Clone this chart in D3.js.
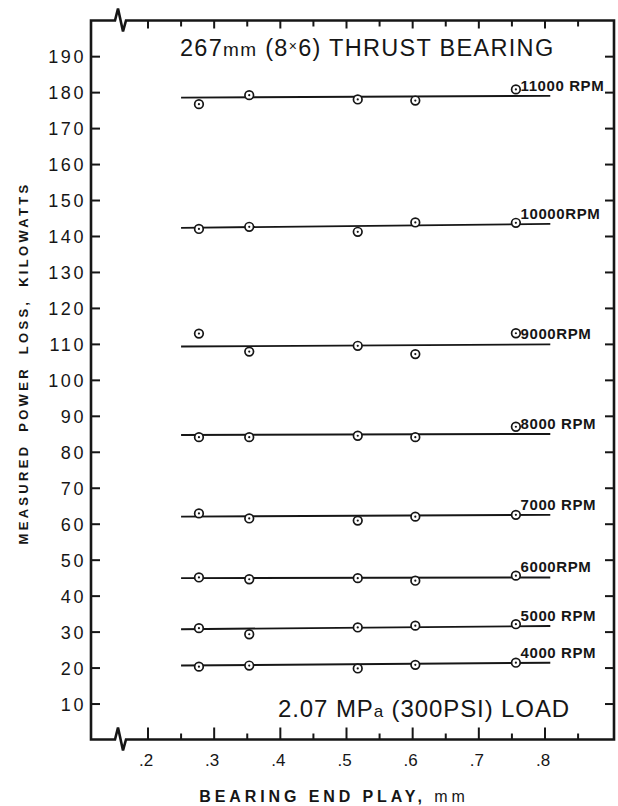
<!DOCTYPE html>
<html>
<head>
<meta charset="utf-8">
<script src="https://cdn.jsdelivr.net/npm/d3@7"></script>
<style>
  body { margin: 0; background: #fff; }
  svg { display: block; }
  text { fill: #161616; font-family: "Liberation Sans", Arial, sans-serif; }
</style>
</head>
<body>
<svg></svg>
<script>
// bearing end play (mm) where each speed was measured
let endPlay = [0.277, 0.353, 0.517, 0.604, 0.756]

// measured power loss, kW (one array per shaft speed)
let rpmLabels = ["11000 RPM", "10000RPM", "9000RPM", "8000 RPM", "7000 RPM", "6000RPM", "5000 RPM", "4000 RPM"]
let loss11000 = [176.8, 179.3, 178.1, 177.8, 180.9]
let loss10000 = [142.1, 142.7, 141.3, 143.9, 143.8]
let loss9000 = [113.0, 108.0, 109.6, 107.3, 113.1]
let loss8000 = [84.2, 84.2, 84.6, 84.2, 87.1]
let loss7000 = [63.0, 61.6, 61.0, 62.1, 62.6]
let loss6000 = [45.2, 44.7, 45.0, 44.3, 45.7]
let loss5000 = [31.1, 29.4, 31.3, 31.8, 32.2]
let loss4000 = [20.4, 20.7, 19.9, 20.9, 21.5]

// faired line through each set: value at start and end of the line
let fitX = [0.25, 0.808]
let fitStart = [178.6, 142.4, 109.4, 84.8, 62.1, 45.0, 30.8, 20.7]
let fitEnd = [179.1, 143.5, 110.0, 85.1, 62.6, 45.2, 31.7, 21.5]

// axis ticks
let yTicks = d3.range(10, 200, 10)
let xMajor = [0.2, 0.3, 0.4, 0.5, 0.6, 0.7, 0.8]
let xMinor = [0.25, 0.35, 0.45, 0.55, 0.65, 0.75, 0.85]
let xTickLabels = [".2", ".3", ".4", ".5", ".6", ".7", ".8"]

let series = [loss11000, loss10000, loss9000, loss8000, loss7000, loss6000, loss5000, loss4000]

let width = 618
let height = 806
let ink = "#161616"

let fLeft = 91, fRight = 614, fTop = 20.5, fBottom = 739.5

let svg = d3.select('svg')
   .attr("width", width)
   .attr("height", height)

let x = d3.scaleLinear().domain([0.2, 0.8]).range([148, 545])
let y = d3.scaleLinear().domain([0, 200]).range([740, 20.7])

// frame with the broken-axis marks
let breakX = 119
let frame = d3.path()
frame.moveTo(fLeft, fBottom)
frame.lineTo(fLeft, fTop)
frame.lineTo(breakX - 4, fTop)
frame.lineTo(breakX - 1, fTop - 12)
frame.lineTo(breakX + 4, fTop + 11)
frame.lineTo(breakX + 7, fTop)
frame.lineTo(fRight, fTop)
frame.lineTo(fRight, fBottom)
frame.lineTo(breakX + 7, fBottom)
frame.lineTo(breakX + 4, fBottom + 11)
frame.lineTo(breakX - 1, fBottom - 12)
frame.lineTo(breakX - 4, fBottom)
frame.closePath()

svg.append("path")
   .attr("d", frame.toString())
   .attr("fill", "none")
   .attr("stroke", ink)
   .attr("stroke-width", 2.6)
   .attr("stroke-linejoin", "miter")

// y ticks, left (labelled) and right
let gy = svg.append("g")
gy.selectAll(".lt").data(yTicks).enter().append("line")
   .attr("x1", fLeft).attr("x2", fLeft + 9)
   .attr("y1", d => y(d)).attr("y2", d => y(d))
   .attr("stroke", ink).attr("stroke-width", 2)
gy.selectAll(".rt").data(yTicks).enter().append("line")
   .attr("x1", fRight).attr("x2", fRight - 9)
   .attr("y1", d => y(d)).attr("y2", d => y(d))
   .attr("stroke", ink).attr("stroke-width", 2)
gy.selectAll("text").data(yTicks).enter().append("text")
   .attr("x", 86)
   .attr("y", d => y(d) + 6.5)
   .attr("text-anchor", "end")
   .attr("font-size", 18)
   .attr("letter-spacing", 2.6)
   .text(d => d)

// x ticks, bottom (labelled) and top
let gx = svg.append("g")
gx.selectAll(".bM").data(xMajor).enter().append("line")
   .attr("x1", d => x(d)).attr("x2", d => x(d))
   .attr("y1", fBottom).attr("y2", fBottom - 12)
   .attr("stroke", ink).attr("stroke-width", 2)
gx.selectAll(".bm").data(xMinor).enter().append("line")
   .attr("x1", d => x(d)).attr("x2", d => x(d))
   .attr("y1", fBottom).attr("y2", fBottom - 6)
   .attr("stroke", ink).attr("stroke-width", 2)
gx.selectAll(".tM").data(xMajor).enter().append("line")
   .attr("x1", d => x(d)).attr("x2", d => x(d))
   .attr("y1", fTop).attr("y2", fTop + 8)
   .attr("stroke", ink).attr("stroke-width", 2)
gx.selectAll(".tm").data(xMinor).enter().append("line")
   .attr("x1", d => x(d)).attr("x2", d => x(d))
   .attr("y1", fTop).attr("y2", fTop + 6)
   .attr("stroke", ink).attr("stroke-width", 2)
gx.selectAll("text").data(xMajor).enter().append("text")
   .attr("x", d => x(d) - 2)
   .attr("y", 766)
   .attr("text-anchor", "middle")
   .attr("font-size", 17)
   .text((d, i) => xTickLabels[i])

// faired lines
svg.append("g").selectAll("line").data(series).enter().append("line")
   .attr("x1", x(fitX[0])).attr("x2", x(fitX[1]))
   .attr("y1", (d, i) => y(fitStart[i]))
   .attr("y2", (d, i) => y(fitEnd[i]))
   .attr("stroke", ink)
   .attr("stroke-width", 1.9)

// points: open circle with a centre dot
let pts = []
series.forEach((s, i) => s.forEach((v, j) => pts.push({ px: endPlay[j], v: v })))
let gp = svg.append("g")
gp.selectAll("circle.o").data(pts).enter().append("circle")
   .attr("cx", d => x(d.px)).attr("cy", d => y(d.v))
   .attr("r", 4.3)
   .attr("fill", "#fff")
   .attr("stroke", ink)
   .attr("stroke-width", 1.7)
gp.selectAll("circle.c").data(pts).enter().append("circle")
   .attr("cx", d => x(d.px)).attr("cy", d => y(d.v))
   .attr("r", 1.1)
   .attr("fill", ink)

// speed labels
svg.append("g").selectAll("text").data(rpmLabels).enter().append("text")
   .attr("x", x(0.763))
   .attr("y", (d, i) => y(fitEnd[i]) - 5)
   .attr("font-size", 15)
   .attr("font-weight", "bold")
   .attr("letter-spacing", 0.6)
   .text(d => d)

// title and load note
let title = svg.append("text")
   .attr("x", 180).attr("y", 56)
   .attr("font-size", 23.5)
   .attr("letter-spacing", 1.3)
title.append("tspan").text("267")
title.append("tspan").attr("font-size", 19).text("mm")
title.append("tspan").text(" (8")
title.append("tspan").attr("font-size", 14).attr("dy", -5).text("×")
title.append("tspan").attr("dy", 5).text("6) THRUST BEARING")

let load = svg.append("text")
   .attr("x", 278).attr("y", 717)
   .attr("font-size", 24)
   .attr("letter-spacing", 0.9)
load.append("tspan").text("2.07 MP")
load.append("tspan").attr("font-size", 17).text("a")
load.append("tspan").text(" (300PSI) LOAD")

// axis titles
svg.append("text")
   .attr("transform", "translate(28," + 363 + ") rotate(-90)")
   .attr("text-anchor", "middle")
   .attr("font-size", 13)
   .attr("font-weight", "bold")
   .attr("letter-spacing", 3.3)
   .attr("word-spacing", 5)
   .text("MEASURED POWER LOSS, KILOWATTS")

let xt = svg.append("text")
   .attr("x", 334).attr("y", 802)
   .attr("text-anchor", "middle")
   .attr("font-size", 16)
   .attr("font-weight", "bold")
   .attr("letter-spacing", 3.9)
xt.append("tspan").text("BEARING END PLAY, ")
xt.append("tspan").attr("font-weight", "normal").text("mm")
</script>
</body>
</html>
